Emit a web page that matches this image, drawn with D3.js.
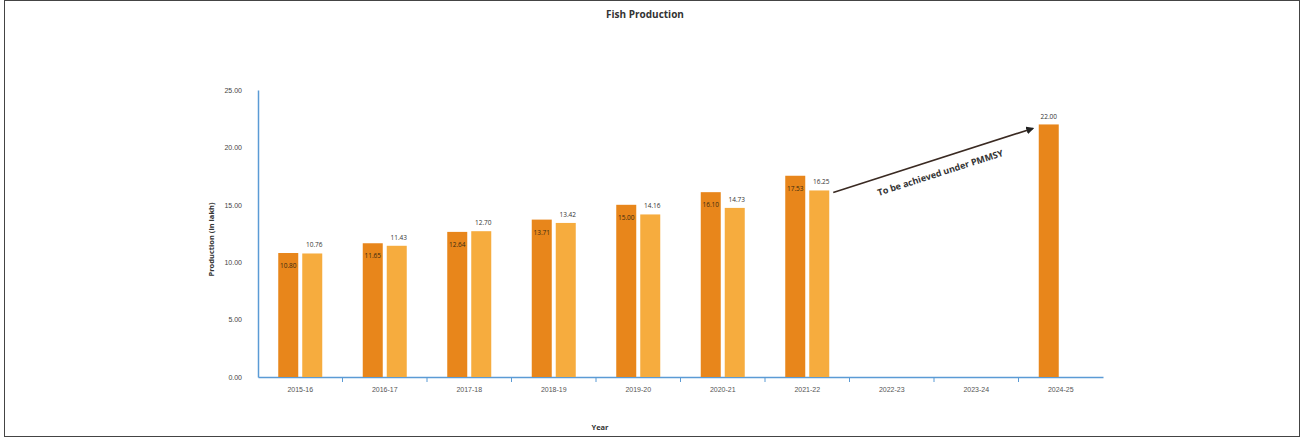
<!DOCTYPE html>
<html><head><meta charset="utf-8">
<script src="https://cdn.jsdelivr.net/npm/d3@7"></script>
<style>
html,body{margin:0;padding:0;background:#fff;}
svg{display:block;font-family:"Open Sans","Liberation Sans",Arial,sans-serif;}
</style></head>
<body>
<svg id="chart" width="1305" height="439"></svg>
<script>
const categories = ["2015-16","2016-17","2017-18","2018-19","2019-20","2020-21","2021-22","2022-23","2023-24","2024-25"];
const targetValues = [10.80, 11.65, 12.64, 13.71, 15.00, 16.10, 17.53, null, null, null];
const achievedValues = [10.76, 11.43, 12.70, 13.42, 14.16, 14.73, 16.25, null, null, null];
const goalValues = [null, null, null, null, null, null, null, null, null, 22.00];
const yTicks = [0, 5, 10, 15, 20, 25];
const titleText = "Fish Production";
const yTitle = "Production (in lakh)";
const xTitle = "Year";
const annotationText = "To be achieved under PMMSY";

const svg = d3.select("#chart");
const m = {left: 258, right: 1103, top: 90, bottom: 377};

svg.append("rect").attr("x", 4.5).attr("y", 0.5).attr("width", 1295).attr("height", 436)
  .attr("fill", "#fff").attr("stroke", "#444").attr("stroke-width", 1);

const x = d3.scaleBand().domain(categories).range([m.left, m.right]).padding(0);
const y = d3.scaleLinear().domain([0, 25]).range([m.bottom, m.top]);

const barW = 20, gap = 4;
const darkColor = "#E8861B", lightColor = "#F6AC3E";

svg.append("text").attr("x", 645).attr("y", 18).attr("text-anchor", "middle")
  .attr("font-size", 10).attr("font-weight", "bold").attr("fill", "#333").text(titleText);

const yAxis = d3.axisLeft(y).tickValues(yTicks).tickFormat(d => d.toFixed(2)).tickSize(0).tickPadding(16);
const gy = svg.append("g").attr("transform", `translate(${m.left},0)`).call(yAxis);
gy.select(".domain").attr("stroke", "#5B9BD5").attr("stroke-width", 1.5);
gy.selectAll("text").attr("font-size", 7).attr("fill", "#444");

const xAxis = d3.axisBottom(x).tickSize(0).tickPadding(10);
const gx = svg.append("g").attr("transform", `translate(0,${m.bottom})`).call(xAxis);
gx.select(".domain").attr("stroke", "#5B9BD5").attr("stroke-width", 1.5);
gx.selectAll("text").attr("font-size", 7).attr("fill", "#555");
svg.append("g").selectAll("line").data(categories.slice(1)).join("line")
  .attr("x1", d => x(d)).attr("x2", d => x(d))
  .attr("y1", m.bottom).attr("y2", m.bottom + 5)
  .attr("stroke", "#5B9BD5").attr("stroke-width", 1);

svg.append("text").attr("transform", `translate(214,${(m.top + m.bottom) / 2 + 6}) rotate(-90)`)
  .attr("text-anchor", "middle").attr("font-size", 7.5).attr("font-weight", "bold").attr("fill", "#333").text(yTitle);
svg.append("text").attr("x", 600).attr("y", 430).attr("text-anchor", "middle")
  .attr("font-size", 7.5).attr("font-weight", "bold").attr("fill", "#333").text(xTitle);

const cx = d => x(d) + x.bandwidth() / 2;
const darkX = d => cx(d) - gap / 2 - barW;
const lightX = d => cx(d) + gap / 2;

const tData = categories.map((c, i) => ({c, v: targetValues[i]})).filter(d => d.v != null);
const aData = categories.map((c, i) => ({c, v: achievedValues[i]})).filter(d => d.v != null);
const gData = categories.map((c, i) => ({c, v: goalValues[i]})).filter(d => d.v != null);

svg.append("g").selectAll("rect").data(tData).join("rect")
  .attr("x", d => darkX(d.c)).attr("y", d => y(d.v)).attr("width", barW)
  .attr("height", d => y(0) - y(d.v)).attr("fill", darkColor);
svg.append("g").selectAll("rect").data(aData).join("rect")
  .attr("x", d => lightX(d.c)).attr("y", d => y(d.v)).attr("width", barW)
  .attr("height", d => y(0) - y(d.v)).attr("fill", lightColor);
svg.append("g").selectAll("rect").data(gData).join("rect")
  .attr("x", d => darkX(d.c)).attr("y", d => y(d.v)).attr("width", barW)
  .attr("height", d => y(0) - y(d.v)).attr("fill", darkColor);

svg.append("g").selectAll("text").data(tData).join("text")
  .attr("x", d => darkX(d.c) + barW / 2).attr("y", d => y(d.v) + 15)
  .attr("text-anchor", "middle").attr("font-size", 6.5).attr("fill", "#3a2a10").text(d => d.v.toFixed(2));
svg.append("g").selectAll("text").data(aData).join("text")
  .attr("x", d => lightX(d.c) + barW / 2 + 2).attr("y", d => y(d.v) - 6)
  .attr("text-anchor", "middle").attr("font-size", 6.5).attr("fill", "#333").text(d => d.v.toFixed(2));
svg.append("g").selectAll("text").data(gData).join("text")
  .attr("x", d => darkX(d.c) + barW / 2).attr("y", d => y(d.v) - 5)
  .attr("text-anchor", "middle").attr("font-size", 6.5).attr("fill", "#333").text(d => d.v.toFixed(2));

const last7 = aData[aData.length - 1];
const g0 = gData[0];
const ax1 = lightX(last7.c) + barW + 4, ay1 = y(last7.v) + 2;
const ax2 = darkX(g0.c) - 6, ay2 = y(g0.v) + 4;
svg.append("defs").append("marker").attr("id", "arr").attr("viewBox", "0 0 10 10")
  .attr("refX", 8).attr("refY", 5).attr("markerWidth", 5).attr("markerHeight", 5)
  .attr("orient", "auto").append("path").attr("d", "M0,0L10,5L0,10z").attr("fill", "#222");
svg.append("line").attr("x1", ax1).attr("y1", ay1).attr("x2", ax2).attr("y2", ay2)
  .attr("stroke", "#3a2a22").attr("stroke-width", 1.6).attr("marker-end", "url(#arr)");
const ang = Math.atan2(ay2 - ay1, ax2 - ax1) * 180 / Math.PI;
const along = 108;
const tx = ax1 + along, ty = ay1 + (ay2 - ay1) * (along / (ax2 - ax1)) + 18;
svg.append("text").attr("transform", `translate(${tx},${ty}) rotate(${ang})`)
  .attr("text-anchor", "middle").attr("font-size", 9).attr("font-weight", "bold").attr("fill", "#333").text(annotationText);
</script>
</body></html>
